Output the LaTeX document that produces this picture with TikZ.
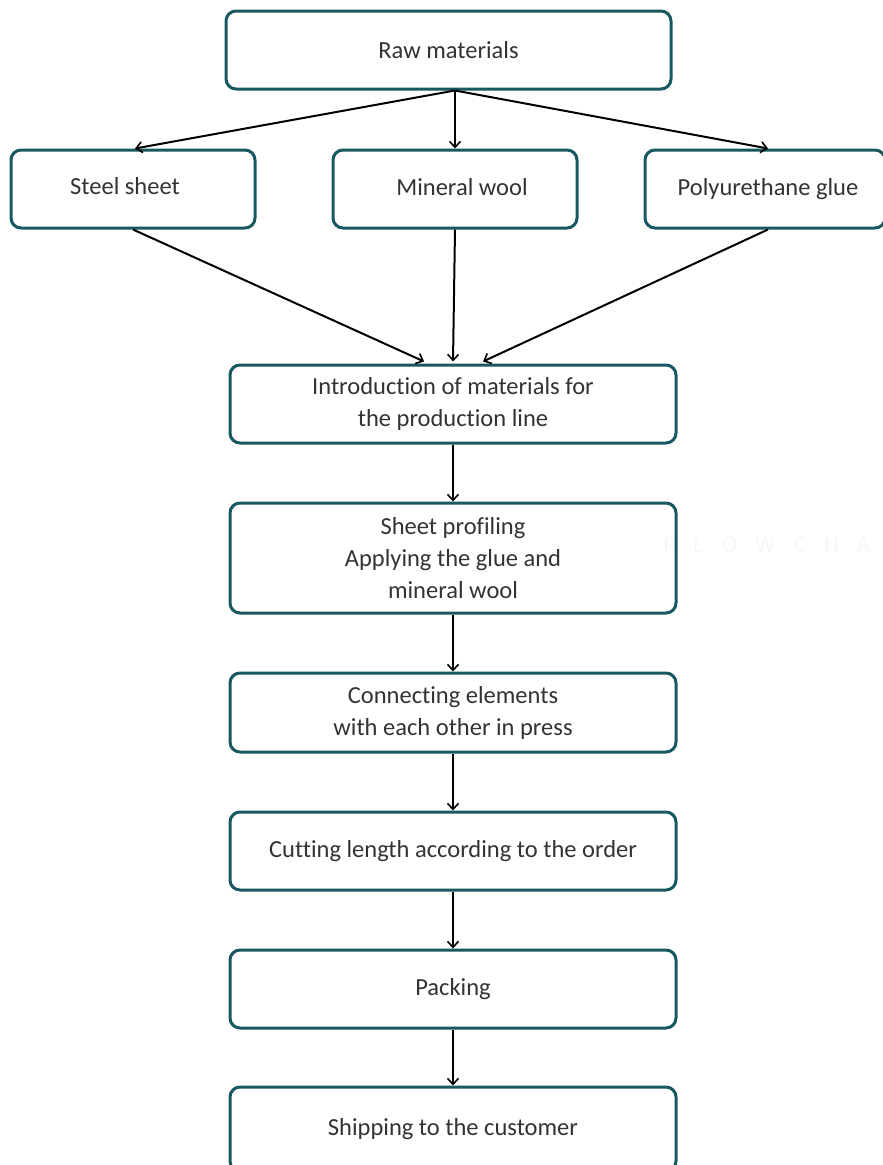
\documentclass[tikz,border=0pt]{standalone}
\usepackage{fontspec}
\setmainfont[Ligatures=NoCommon]{Carlito}
\usetikzlibrary{arrows.meta,calc}
\definecolor{boxline}{RGB}{24,88,96}
\definecolor{txt}{RGB}{51,51,51}
\definecolor{wm}{RGB}{250,244,244}
\begin{document}
\begin{tikzpicture}[x=1pt,y=-1pt,
  box/.style={draw=boxline,line width=3pt,rounded corners=10pt,fill=white,
    text=txt,align=center,font=\fontsize{24.5}{32}\selectfont,inner sep=0pt},
  conn/.style={draw=black,line width=2pt,-{Straight Barb[length=6pt,width=11pt,line width=1.6pt]}}]
\useasboundingbox (0,0) rectangle (883,1165);
\clip (0,0) rectangle (883,1165);
\node[box,minimum width=445pt,minimum height=78pt] (raw) at (448.5,50) {Raw materials};
\node[box,minimum width=244pt,minimum height=78pt] (steel) at (133,189) {\raisebox{6pt}{\hspace*{-16pt}Steel sheet}};
\node[box,minimum width=244pt,minimum height=78pt] (wool) at (455,189) {\raisebox{4pt}{\hspace*{14pt}Mineral wool}};
\node[box,minimum width=240pt,minimum height=78pt] (glue) at (765,189) {\raisebox{4pt}{\hspace*{6pt}Polyurethane glue}};
\node[box,minimum width=446pt,minimum height=78pt] (intro) at (453,404) {Introduction of materials for\\the production line};
\node[box,minimum width=446pt,minimum height=110pt] (prof) at (453,558) {Sheet profiling\\Applying the glue and\\mineral wool};
\node[box,minimum width=446pt,minimum height=79pt] (press) at (453,712.5) {Connecting elements\\with each other in press};
\node[box,minimum width=446pt,minimum height=78pt] (cut) at (453,851) {Cutting length according to the order};
\node[box,minimum width=446pt,minimum height=78pt] (pack) at (453,989) {Packing};
\node[box,minimum width=446pt,minimum height=84pt] (ship) at (453,1129) {Shipping to the customer};
\node[text=wm,font=\sffamily\fontsize{22}{22}\selectfont,anchor=east] (mark) at (874,545) {F\hspace{18pt}L\hspace{18pt}O\hspace{18pt}W\hspace{18pt}C\hspace{18pt}H\hspace{18pt}A};
\coordinate (rs) at ($(raw.south)+(6.5,0)$);
\draw[conn] (rs) -- ($(steel.north)+(2,0)$);
\draw[conn] (rs) -- (wool.north);
\draw[conn] (rs) -- ($(glue.north)+(3,0)$);
\draw[conn] (steel.south) -- ($(intro.north)+(-29,-2)$);
\draw[conn] (wool.south) -- ($(intro.north)+(0,-2)$);
\draw[conn] ($(glue.south)+(3,0)$) -- ($(intro.north)+(30,-2)$);
\draw[conn] (intro) -- (prof);
\draw[conn] (prof) -- (press);
\draw[conn] (press) -- (cut);
\draw[conn] (cut) -- (pack);
\draw[conn] (pack) -- (ship);
\end{tikzpicture}
\end{document}
